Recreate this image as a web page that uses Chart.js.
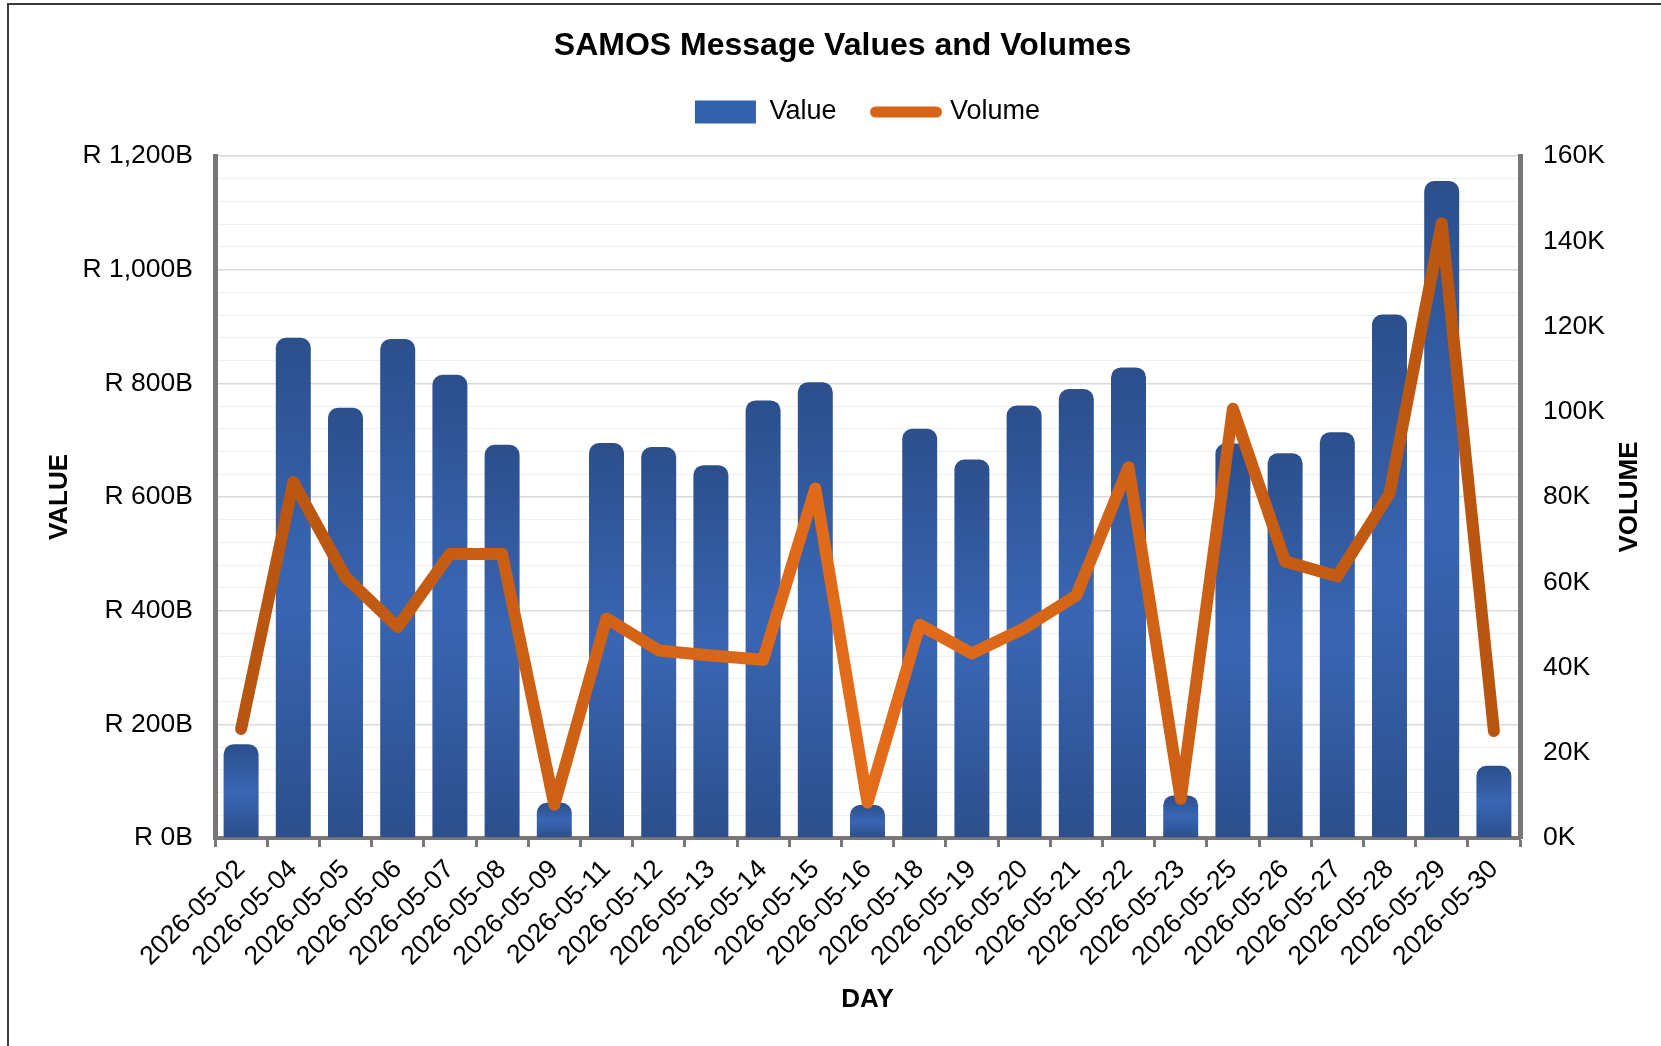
<!DOCTYPE html>
<html>
<head>
<meta charset="utf-8">
<title>SAMOS Message Values and Volumes</title>
<script src="https://cdn.jsdelivr.net/npm/chart.js@4.4.1/dist/chart.umd.min.js"></script>
<style>
  html, body { margin: 0; padding: 0; background: #fff; overflow: hidden; }
  #frame { position: absolute; left: 7px; top: 3px; width: 1700px; height: 1100px; border: 2px solid #3a3a3a; }
  #wrap { position: absolute; left: 0; top: 0; width: 1661px; height: 1046px; }
</style>
</head>
<body>
<div id="frame"></div>
<div id="wrap"><canvas id="chart" width="1661" height="1046"></canvas></div>
<script>
const days = [
  "2026-05-02", "2026-05-04", "2026-05-05", "2026-05-06", "2026-05-07",
  "2026-05-08", "2026-05-09", "2026-05-11", "2026-05-12", "2026-05-13",
  "2026-05-14", "2026-05-15", "2026-05-16", "2026-05-18", "2026-05-19",
  "2026-05-20", "2026-05-21", "2026-05-22", "2026-05-23", "2026-05-25",
  "2026-05-26", "2026-05-27", "2026-05-28", "2026-05-29", "2026-05-30",
];

// settlement value per day, in billions of rand
const valueB = [
  165, 880, 757, 878, 815,
  692, 62, 695, 688, 656,
  770, 802, 58, 720, 666,
  761, 790, 828, 75, 694,
  677, 714, 921, 1156, 127,
];

// message count per day
const volume = [
  25600, 83500, 61200, 49500, 66600,
  66600, 7800, 51500, 44000, 42800,
  41800, 82000, 8300, 50000, 43300,
  49200, 56900, 87000, 9200, 100700,
  64900, 61400, 80800, 144200, 25100,
];

const valueAxisMax = 1200;
const valueMinorStep = 40;
const valueMajorStep = 200;
const volumeAxisMax = 160000;
const volumeStep = 20000;

const FONT = "'Liberation Sans', Arial, Helvetica, sans-serif";
const AXIS_GREY = "#7a7676";
const TICK_SIZE = 26.5;

Chart.defaults.font.family = FONT;
Chart.defaults.color = "#000";

const barFill = (c) => {
  const { chart, dataIndex } = c;
  const y = chart.scales.y;
  if (!chart.chartArea || !y || dataIndex === undefined) return "#3160ad";
  const top = y.getPixelForValue(valueB[dataIndex]);
  const bottom = y.getPixelForValue(0);
  const g = chart.ctx.createLinearGradient(0, top, 0, bottom);
  g.addColorStop(0, "#2c4f8c");
  g.addColorStop(0.5, "#3966b4");
  g.addColorStop(1, "#2c4f8c");
  return g;
};

const lineStroke = (c) => {
  const { chart } = c;
  const a = chart.chartArea;
  if (!a) return "#d2621a";
  const g = chart.ctx.createLinearGradient(a.left, 0, a.right, 0);
  g.addColorStop(0, "#b6540f");
  g.addColorStop(0.5, "#e46c1a");
  g.addColorStop(1, "#b6540f");
  return g;
};

const isMajor = (v) => v % valueMajorStep === 0;

// legend sits a bit off the chart's centre line, and the right-hand title reads upwards
const layoutTweaks = {
  id: "layoutTweaks",
  afterLayout(chart) {
    const lg = chart.legend;
    lg.left += 25;
    lg.right += 25;
    lg.top -= 20.5;
    lg.bottom -= 20.5;
  },
  afterDraw(chart) {
    const s = chart.scales.y2;
    const ctx = chart.ctx;
    ctx.save();
    ctx.font = `bold 26px ${FONT}`;
    ctx.fillStyle = "#000";
    ctx.textAlign = "center";
    ctx.textBaseline = "middle";
    ctx.translate(s.right - 31, (s.top + s.bottom) / 2);
    ctx.rotate(-Math.PI / 2);
    ctx.fillText("VOLUME", 0, 0);
    ctx.restore();
  },
};

new Chart(document.getElementById("chart"), {
  type: "bar",
  data: {
    labels: days,
    datasets: [
      {
        type: "bar",
        label: "Value",
        data: valueB,
        yAxisID: "y",
        order: 1,
        backgroundColor: barFill,
        borderRadius: 10,
        borderSkipped: "start",
        barPercentage: 0.67,
        categoryPercentage: 1,
      },
      {
        type: "line",
        label: "Volume",
        data: volume,
        yAxisID: "y2",
        order: 0,
        borderColor: lineStroke,
        borderWidth: 12,
        borderCapStyle: "round",
        borderJoinStyle: "round",
        pointRadius: 0,
        tension: 0,
        fill: false,
      },
    ],
  },
  options: {
    responsive: false,
    animation: false,
    layout: { padding: { left: 24, right: 0, top: 0, bottom: 0 } },
    plugins: {
      tooltip: { enabled: false },
      title: {
        display: true,
        text: "SAMOS Message Values and Volumes",
        color: "#000",
        font: { size: 32, weight: "bold" },
        padding: { top: 26.6, bottom: 15 },
      },
      legend: {
        position: "top",
        labels: {
          color: "#000",
          font: { size: 27 },
          usePointStyle: true,
          pointStyleWidth: 61,
          boxHeight: 23,
          padding: 39,
          sort: (a, b) => a.datasetIndex - b.datasetIndex,
          generateLabels(chart) {
            const items = Chart.defaults.plugins.legend.labels.generateLabels(chart);
            return items.map((it) =>
              it.datasetIndex === 0
                ? { ...it, pointStyle: "rect", fillStyle: "#3262ae", strokeStyle: "#3262ae", lineWidth: 0 }
                : { ...it, pointStyle: "line", strokeStyle: "#d6651a", lineWidth: 11, lineCap: "round" }
            );
          },
        },
      },
    },
    scales: {
      x: {
        offset: true,
        grid: {
          display: true,
          offset: true,
          drawOnChartArea: false,
          drawTicks: true,
          tickLength: 9,
          tickWidth: 3,
          tickColor: AXIS_GREY,
        },
        border: { display: true, color: AXIS_GREY, width: 4 },
        ticks: {
          autoSkip: false,
          minRotation: 45,
          maxRotation: 45,
          padding: 7,
          color: "#000",
          font: { size: TICK_SIZE },
        },
        title: {
          display: true,
          text: "DAY",
          color: "#000",
          font: { size: 26, weight: "bold" },
          padding: { top: 0, bottom: 31 },
        },
        afterFit(scale) {
          scale.height = 208;
        },
      },
      y: {
        position: "left",
        min: 0,
        max: valueAxisMax,
        grid: {
          color: (c) => (isMajor(c.tick.value) ? "#d9d9d9" : "#efefef"),
          lineWidth: (c) => (isMajor(c.tick.value) ? 1.5 : 1),
          drawTicks: false,
        },
        border: { color: AXIS_GREY, width: 5 },
        ticks: {
          stepSize: valueMinorStep,
          autoSkip: false,
          padding: 22,
          color: "#000",
          font: { size: TICK_SIZE },
          callback: (v) => (isMajor(v) ? "R " + v.toLocaleString("en-US") + "B" : ""),
        },
        title: {
          display: true,
          text: "VALUE",
          color: "#000",
          font: { size: 26, weight: "bold" },
          padding: { top: 20, bottom: 0 },
        },
        afterFit(scale) {
          scale.width = 191;
        },
      },
      y2: {
        position: "right",
        min: 0,
        max: volumeAxisMax,
        grid: { drawOnChartArea: false, drawTicks: false },
        border: { color: AXIS_GREY, width: 5 },
        ticks: {
          stepSize: volumeStep,
          padding: 23,
          color: "#000",
          font: { size: TICK_SIZE },
          callback: (v) => v / 1000 + "K",
        },
        afterFit(scale) {
          scale.width = 141;
        },
      },
    },
  },
  plugins: [layoutTweaks],
});
</script>
</body>
</html>
